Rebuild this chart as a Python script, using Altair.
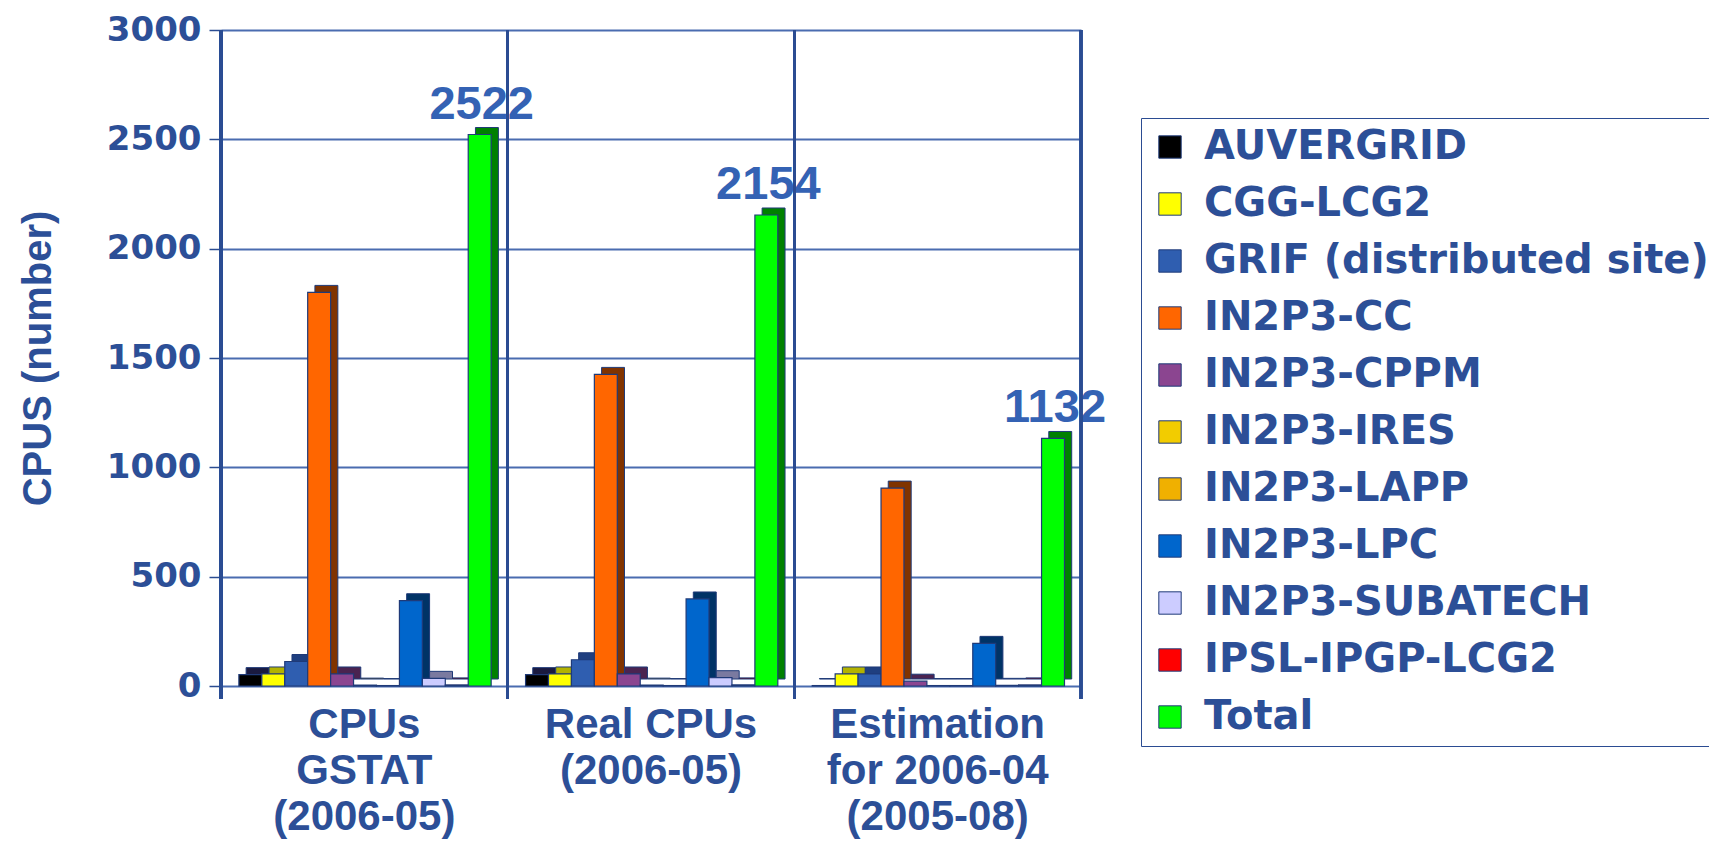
import altair as alt
import pandas as pd

groups = ["CPUs\nGSTAT\n(2006-05)", "Real CPUs\n(2006-05)", "Estimation\nfor 2006-04\n(2005-08)"]
series = ["AUVERGRID", "CGG-LCG2", "GRIF (distributed site)", "IN2P3-CC", "IN2P3-CPPM",
          "IN2P3-IRES", "IN2P3-LAPP", "IN2P3-LPC", "IN2P3-SUBATECH", "IPSL-IPGP-LCG2", "Total"]
colors = ["#000000", "#FFFF00", "#2F5EB0", "#FF6600", "#8B4590", "#F2CC00",
          "#F0B000", "#0066CC", "#CCCCFF", "#FF0000", "#00FF00"]
side_colors = ["#1A1A40", "#B3B300", "#1F3F80", "#803300", "#4A2350", "#8A7400",
               "#8A6500", "#003366", "#7A7AA0", "#800000", "#008000"]
vals_gstat = [52, 55, 112, 1800, 55, 4, 2, 390, 35, 5, 2522]
vals_real = [52, 55, 120, 1425, 55, 4, 2, 398, 38, 5, 2154]
vals_est = [2, 55, 55, 905, 22, 2, 2, 195, 3, 5, 1132]
y_ticks = [0, 500, 1000, 1500, 2000, 2500, 3000]

rows = []
for g, vals in zip(groups, [vals_gstat, vals_real, vals_est]):
    for s, d, v in zip(series, side_colors, vals):
        rows.append({"group": g, "series": s, "value": v, "side": d})
df = pd.DataFrame(rows)

TXT = "#2C4F97"
GRID = "#4A6CB0"
DARK = "#2B4C92"

x_enc = alt.X("group:N", sort=groups, title=None,
              scale=alt.Scale(paddingInner=0, paddingOuter=0),
              axis=alt.Axis(labelExpr="split(datum.label, '\\n')", ticks=False, domain=False,
                            grid=False, labelAngle=0, labelFont="Liberation Sans Narrow, Liberation Sans",
                            labelFontWeight="bold", labelFontSize=42, labelLineHeight=46,
                            labelColor=TXT, labelPadding=18, labelLimit=500, labelBaseline="top"))
y_enc = alt.Y("value:Q", title="CPUS (number)",
              scale=alt.Scale(domain=[0, 3000], nice=False),
              axis=alt.Axis(values=y_ticks, format="d", tickSize=12, tickColor=DARK, tickWidth=1.5,
                            labelFont="DejaVu Sans", labelFontWeight="bold", labelFontSize=34,
                            labelColor=TXT, labelPadding=8, domainColor=DARK, domainWidth=2.5,
                            grid=True, gridColor=GRID, gridWidth=2,
                            titleFont="Liberation Sans Narrow, Liberation Sans", titleFontWeight="bold",
                            titleFontSize=40, titleColor=TXT, titlePadding=48))

def off(align):
    return alt.XOffset("series:N", sort=series,
                       scale=alt.Scale(domain=series, paddingInner=0, paddingOuter=0.75, align=align))

base = alt.Chart(df)

back = base.mark_bar(yOffset=-7, y2Offset=-7, stroke="#1F3A78", strokeWidth=1).encode(
    x=x_enc, xOffset=off(0.73), y=y_enc,
    color=alt.Color("side:N", scale=None))

front = base.mark_bar(stroke="#1F3A78", strokeWidth=1.2).encode(
    x=x_enc, xOffset=off(0.52), y=y_enc,
    color=alt.Color("series:N", sort=series,
                    scale=alt.Scale(domain=series, range=colors),
                    legend=alt.Legend(orient="none", legendX=920, legendY=88, title=None,
                                      symbolType="square", symbolSize=500,
                                      symbolStrokeColor="#2B4C92", symbolStrokeWidth=1,
                                      labelFont="DejaVu Sans", labelFontWeight="bold",
                                      labelFontSize=40, labelColor=TXT, labelOffset=14,
                                      rowPadding=17, padding=9, strokeColor=DARK,
                                      labelLimit=700)))

labels = base.transform_filter(alt.datum.series == "Total").mark_text(
    dy=-16, dx=-8, baseline="alphabetic", align="center", fontSize=47,
    font="Liberation Sans", fontWeight="bold", color="#3462B4").encode(
    x=x_enc, xOffset=off(0.52), y=y_enc, text=alt.Text("value:Q"))

dividers = base.mark_rule(color=DARK, strokeWidth=2.5).encode(
    x=alt.X("group:N", sort=groups, bandPosition=1, title=None),
    y=alt.value(0), y2=alt.value(669))

left_tick = base.mark_rule(color=DARK, strokeWidth=2.5).encode(
    x=alt.value(0), y=alt.value(0), y2=alt.value(669))

chart = alt.layer(back, front, labels, dividers, left_tick).resolve_scale(
    xOffset="independent"
).properties(
    width=860, height=656,
    autosize=alt.AutoSizeParams(type="none"),
    padding={"left": 213, "top": 22, "right": 628, "bottom": 154},
    background="white"
).configure_view(stroke=None)

chart.save("out.html", embed_options={"renderer": "svg", "actions": False})
